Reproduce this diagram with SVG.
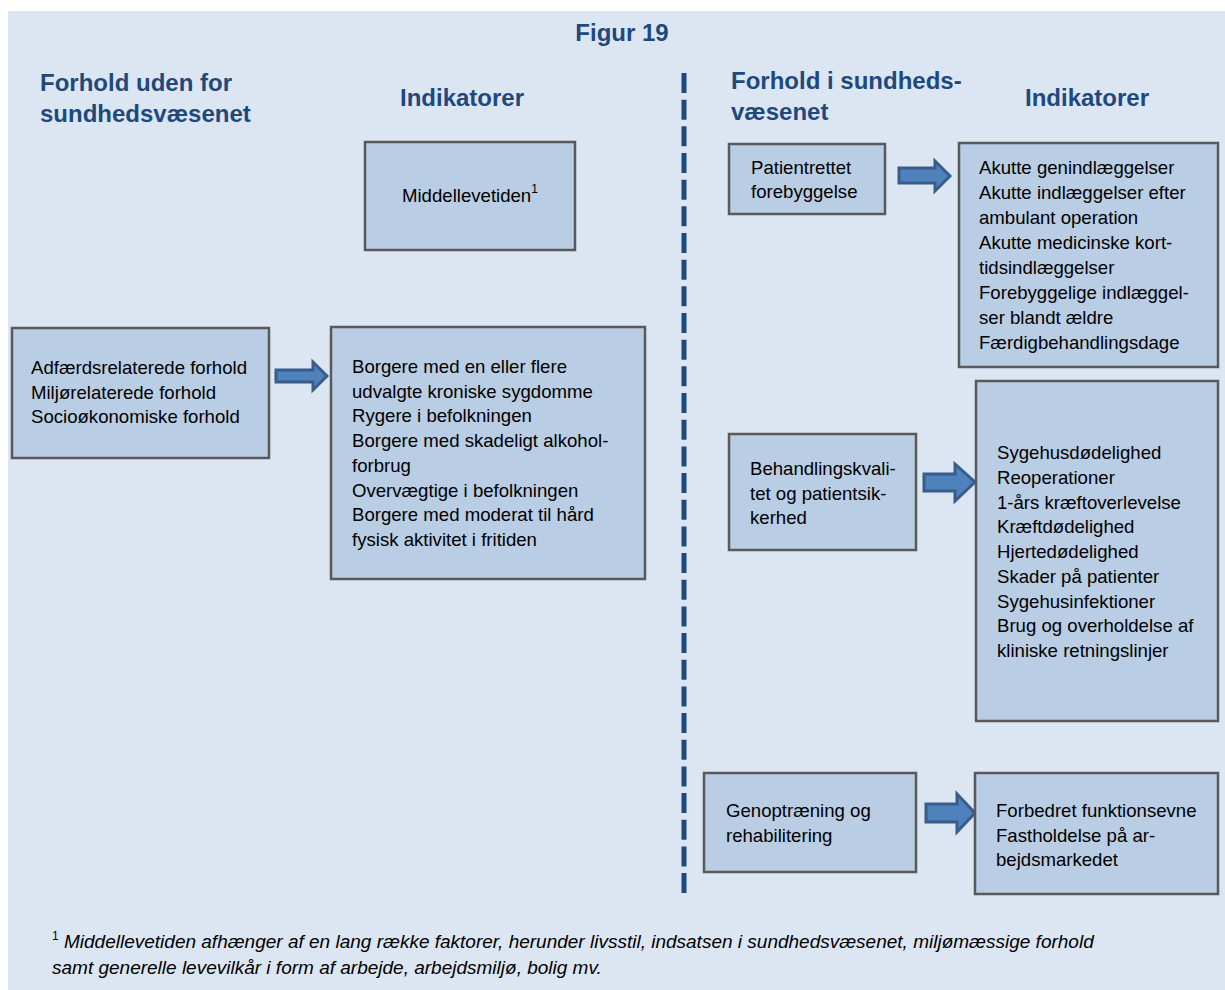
<svg xmlns="http://www.w3.org/2000/svg" width="1225" height="990" viewBox="0 0 1225 990">
<style>
.bg{fill:#dce6f2}
.box{fill:#b9cde5;stroke:#595959;stroke-width:2.5}
.h{font-family:"Liberation Sans",Arial,sans-serif;font-weight:bold;font-size:24px;fill:#1f497d}
.t{font-family:"Liberation Sans",Arial,sans-serif;font-size:18.6px;fill:#000}
.sup{font-family:"Liberation Sans",Arial,sans-serif;font-size:12px;fill:#000}
.fn{font-family:"Liberation Sans",Arial,sans-serif;font-size:19px;font-style:italic;fill:#000}
.arr{fill:#4f81bd;stroke:#385d8a;stroke-width:3;stroke-linejoin:miter}
.dash{stroke:#1f497d;stroke-width:5;stroke-dasharray:20 6.67;fill:none}
</style>
<rect class="bg" x="8" y="11" width="1217" height="979"/>
<g id="headings">
<text class="h" x="622" y="41" text-anchor="middle">Figur 19</text>
<text class="h" x="40" y="91">Forhold uden for</text>
<text class="h" x="40" y="122">sundhedsvæsenet</text>
<text class="h" x="400" y="106">Indikatorer</text>
<text class="h" x="731" y="89">Forhold i sundheds-</text>
<text class="h" x="731" y="120">væsenet</text>
<text class="h" x="1025" y="106">Indikatorer</text>
</g>
<g id="connectors">
<line class="dash" x1="684" y1="73" x2="684" y2="893"/>
<polygon class="arr" points="276,370 313,370 313,362 327,376 313,390 313,382 276,382"/>
<polygon class="arr" points="899,168 935,168 935,161 950,176 935,191 935,183 899,183"/>
<polygon class="arr" points="924,474 955,474 955,464 975,482 955,501 955,491 924,491"/>
<polygon class="arr" points="926,804 957,804 957,794 975,813 957,832 957,822 926,822"/>
</g>
<g id="middellevetiden">
<rect class="box" x="365" y="142" width="210" height="108"/>
<text class="t" x="402" y="202">Middellevetiden<tspan class="sup" dy="-9">1</tspan></text>
</g>
<g id="forhold-uden">
<rect class="box" x="12" y="328" width="257" height="130"/>
<text class="t" x="31" y="374">Adfærdsrelaterede forhold</text>
<text class="t" x="31" y="399">Miljørelaterede forhold</text>
<text class="t" x="31" y="423">Socioøkonomiske forhold</text>
</g>
<g id="borgere">
<rect class="box" x="331" y="327" width="314" height="252"/>
<text class="t" x="352" y="373">Borgere med en eller flere</text>
<text class="t" x="352" y="397.7">udvalgte kroniske sygdomme</text>
<text class="t" x="352" y="422.4">Rygere i befolkningen</text>
<text class="t" x="352" y="447.1">Borgere med skadeligt alkohol-</text>
<text class="t" x="352" y="471.8">forbrug</text>
<text class="t" x="352" y="496.5">Overvægtige i befolkningen</text>
<text class="t" x="352" y="521.2">Borgere med moderat til hård</text>
<text class="t" x="352" y="545.9">fysisk aktivitet i fritiden</text>
</g>
<g id="patientrettet">
<rect class="box" x="729" y="144" width="156" height="70"/>
<text class="t" x="751" y="174">Patientrettet</text>
<text class="t" x="751" y="198">forebyggelse</text>
</g>
<g id="akutte">
<rect class="box" x="959" y="143" width="259" height="224"/>
<text class="t" x="979" y="174">Akutte genindlæggelser</text>
<text class="t" x="979" y="199">Akutte indlæggelser efter</text>
<text class="t" x="979" y="224">ambulant operation</text>
<text class="t" x="979" y="249">Akutte medicinske kort-</text>
<text class="t" x="979" y="274">tidsindlæggelser</text>
<text class="t" x="979" y="299">Forebyggelige indlæggel-</text>
<text class="t" x="979" y="324">ser blandt ældre</text>
<text class="t" x="979" y="349">Færdigbehandlingsdage</text>
</g>
<g id="behandling">
<rect class="box" x="729" y="434" width="187" height="116"/>
<text class="t" x="750" y="475">Behandlingskvali-</text>
<text class="t" x="750" y="500">tet og patientsik-</text>
<text class="t" x="750" y="524">kerhed</text>
</g>
<g id="sygehus">
<rect class="box" x="976" y="381" width="242" height="340"/>
<text class="t" x="997" y="459">Sygehusdødelighed</text>
<text class="t" x="997" y="483.75">Reoperationer</text>
<text class="t" x="997" y="508.5">1-års kræftoverlevelse</text>
<text class="t" x="997" y="533.25">Kræftdødelighed</text>
<text class="t" x="997" y="558">Hjertedødelighed</text>
<text class="t" x="997" y="582.75">Skader på patienter</text>
<text class="t" x="997" y="607.5">Sygehusinfektioner</text>
<text class="t" x="997" y="632.25">Brug og overholdelse af</text>
<text class="t" x="997" y="657">kliniske retningslinjer</text>
</g>
<g id="genoptraening">
<rect class="box" x="704" y="773" width="212" height="99"/>
<text class="t" x="726" y="817">Genoptræning og</text>
<text class="t" x="726" y="842">rehabilitering</text>
</g>
<g id="forbedret">
<rect class="box" x="975" y="773" width="243" height="121"/>
<text class="t" x="996" y="817">Forbedret funktionsevne</text>
<text class="t" x="996" y="842">Fastholdelse på ar-</text>
<text class="t" x="996" y="866">bejdsmarkedet</text>
</g>
<g id="footnote">
<text class="sup" x="52" y="940">1</text>
<text class="fn" x="64" y="948">Middellevetiden afhænger af en lang række faktorer, herunder livsstil, indsatsen i sundhedsvæsenet, miljømæssige forhold</text>
<text class="fn" x="52" y="974">samt generelle levevilkår i form af arbejde, arbejdsmiljø, bolig mv.</text>
</g>
</svg>
